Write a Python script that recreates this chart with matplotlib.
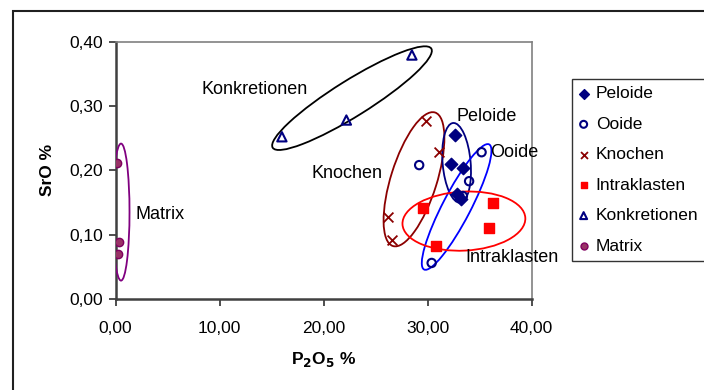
import matplotlib
matplotlib.use("Agg")
import matplotlib.pyplot as plt
from matplotlib.patches import Ellipse, Rectangle
from matplotlib.ticker import FuncFormatter
from matplotlib.transforms import ScaledTranslation

plt.rcParams['font.family'] = ['Liberation Sans', 'DejaVu Sans']

# P2O5 (x) and SrO (y) per component
peloide_x = [32.6, 32.3, 33.4, 32.8, 33.2]
peloide_y = [0.255, 0.209, 0.204, 0.163, 0.155]
ooide_x = [35.2, 29.2, 34.0, 33.4, 30.4]
ooide_y = [0.228, 0.208, 0.183, 0.160, 0.056]
knochen_x = [29.9, 31.1, 26.2, 26.6]
knochen_y = [0.276, 0.228, 0.128, 0.092]
intra_x = [29.6, 36.3, 35.9, 30.8]
intra_y = [0.142, 0.149, 0.111, 0.082]
konk_x = [28.5, 22.2, 16.0]
konk_y = [0.379, 0.278, 0.252]
matrix_x = [0.1, 0.38, 0.22]
matrix_y = [0.212, 0.088, 0.070]

# group outlines: name, centre (x, y), width, height (pt), angle, colour
groups = [
    ("Konkretionen", (22.74, 0.312), 187, 36, 32, "black"),
    ("Knochen", (28.7, 0.186), 140, 46, 72.5, "#8B0000"),
    ("Peloide", (32.8, 0.2115), 80, 28, 95, "#000080"),
    ("Ooide", (32.8, 0.143), 141, 28, 62.5, "#0000FF"),
    ("Intraklasten", (33.5, 0.121), 123, 59, 3, "#FF0000"),
    ("Matrix", (0.53, 0.135), 17, 137, 0, "#800080"),
]

# group names written next to the outlines
label_text = ["Konkretionen", "Peloide", "Ooide", "Knochen", "Matrix", "Intraklasten"]
label_x = [8.3, 32.8, 36.0, 18.8, 1.9, 33.6]
label_y = [0.326, 0.283, 0.228, 0.195, 0.132, 0.065]

fig = plt.figure(figsize=(7.04, 3.90), dpi=100)
ax = fig.add_axes([115.5 / 704, 91 / 390, 416 / 704, 257.5 / 390])

ax.scatter(peloide_x, peloide_y, marker="D", s=40, color="#000080", label="Peloide", zorder=4)
ax.scatter(ooide_x, ooide_y, marker="o", s=36, facecolor="none", edgecolor="#000080",
           linewidth=1.5, label="Ooide", zorder=4)
ax.scatter(knochen_x, knochen_y, marker="x", s=50, color="#8B0000", linewidth=1.3,
           label="Knochen", zorder=4)
ax.scatter(intra_x, intra_y, marker="s", s=45, color="#FF0000", label="Intraklasten", zorder=4)
ax.scatter(konk_x, konk_y, marker="^", s=45, facecolor="none", edgecolor="#000080",
           linewidth=1.5, label="Konkretionen", zorder=4)
ax.scatter(matrix_x, matrix_y, marker="o", s=36, color="#993366", edgecolor="#800060",
           label="Matrix", zorder=4)

for name, (cx, cy), w, h, ang, col in groups:
    tr = fig.dpi_scale_trans + ScaledTranslation(cx, cy, ax.transData)
    ax.add_patch(Ellipse((0, 0), w / 100, h / 100, angle=ang, fill=False,
                         edgecolor=col, linewidth=1.3, transform=tr, zorder=3))

for t, x, y in zip(label_text, label_x, label_y):
    ax.text(x, y, t, fontsize=13, va="center", ha="left", zorder=5)

ax.set_xlim(0, 40)
ax.set_ylim(0, 0.40)
ax.set_xticks([0, 10, 20, 30, 40])
ax.set_yticks([0, 0.1, 0.2, 0.3, 0.4])
ax.xaxis.set_major_formatter(FuncFormatter(lambda v, p: f"{v:.2f}".replace(".", ",")))
ax.yaxis.set_major_formatter(FuncFormatter(lambda v, p: f"{v:.2f}".replace(".", ",")))
ax.tick_params(direction="out", length=5, width=1.3, color="#404040", labelsize=12.5,
               pad=4)
ax.tick_params(axis="x", pad=11)

for side in ("left", "bottom"):
    ax.spines[side].set_color("#404040")
    ax.spines[side].set_linewidth(1.8)
for side in ("top", "right"):
    ax.spines[side].set_color("#808080")
    ax.spines[side].set_linewidth(1.2)

ax.set_ylabel("SrO %", fontsize=12.5, fontweight="bold", labelpad=10)
ax.set_xlabel(r"P$_\mathbf{2}$O$_\mathbf{5}$ %", fontsize=12.5, fontweight="bold",
              labelpad=10)

leg = ax.legend(loc="upper left", bbox_to_anchor=(572 / 704, 1 - 79 / 390),
                bbox_transform=fig.transFigure, frameon=True, fancybox=False,
                fontsize=12.5, handletextpad=0.45, labelspacing=0.88,
                borderaxespad=0, borderpad=0.42, handlelength=0.5, scatterpoints=1)
leg.get_frame().set_edgecolor("black")
leg.get_frame().set_linewidth(1.0)
for h in leg.legend_handles:
    h.set_sizes([25])

# outer chart frame
fig.patches.append(Rectangle((13 / 704, -0.1), 1.2, 1 - 11 / 390 + 0.1, fill=False,
                             edgecolor="#202020", linewidth=1.5,
                             transform=fig.transFigure, figure=fig))

fig.savefig("out.png", dpi=100)
